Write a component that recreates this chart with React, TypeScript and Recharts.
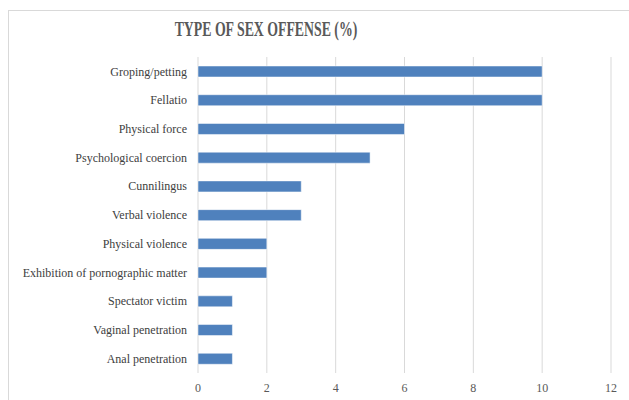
import { BarChart, Bar, XAxis, YAxis, CartesianGrid } from "recharts";

const categories = [
  "Groping/petting",
  "Fellatio",
  "Physical force",
  "Psychological coercion",
  "Cunnilingus",
  "Verbal violence",
  "Physical violence",
  "Exhibition of pornographic matter",
  "Spectator victim",
  "Vaginal penetration",
  "Anal penetration",
];
const percentages = [10, 10, 6, 5, 3, 3, 2, 2, 1, 1, 1];
const xTicks = [0, 2, 4, 6, 8, 10, 12];

const data = categories.map((name, i) => ({ name, value: percentages[i] }));

const fontFamily = "'Liberation Serif', 'DejaVu Serif', serif";

// plain text tick so long labels don't wrap
const renderCategoryTick = (props: any) => {
  const { x, y, payload } = props;
  return (
    <text x={x} y={y} dy="0.35em" textAnchor="end" fill="#404040" fontSize={12} fontFamily={fontFamily}>
      {payload.value}
    </text>
  );
};

const App = () => {
  return (
    <div style={{ position: "fixed", left: 0, top: 0, width: 629, height: 400, background: "#fff", overflow: "hidden" }}>
      {/* outer chart frame, cut off on the right and bottom */}
      <div
        style={{
          position: "absolute",
          left: 8,
          top: 10,
          width: 700,
          height: 500,
          borderLeft: "1px solid #d9d9d9",
          borderTop: "1px solid #d9d9d9",
        }}
      />
      <div
        style={{
          position: "absolute",
          left: 266,
          top: 18,
          transform: "translateX(-50%) scaleX(0.69)",
          whiteSpace: "nowrap",
          fontFamily,
          fontWeight: "bold",
          fontSize: 20,
          color: "#595959",
        }}
      >
        TYPE OF SEX OFFENSE (%)
      </div>
      <div style={{ position: "absolute", left: 0, top: 0 }}>
        <BarChart
          width={629}
          height={400}
          layout="vertical"
          data={data}
          margin={{ top: 57, right: 18, bottom: 0, left: 8 }}
        >
          <CartesianGrid horizontal={false} stroke="#d9d9d9" />
          <XAxis
            type="number"
            domain={[0, 12]}
            ticks={xTicks}
            axisLine={false}
            tickLine={false}
            height={27}
            tickMargin={4}
            tick={{ fill: "#595959", fontSize: 12, fontFamily }}
          />
          <YAxis
            type="category"
            dataKey="name"
            width={190}
            axisLine={false}
            tickLine={false}
            tickMargin={5}
            interval={0}
            tick={renderCategoryTick}
          />
          <Bar
            dataKey="value"
            fill="#4f81bd"
            stroke="#ffffff"
            strokeWidth={0.5}
            barSize={11}
            isAnimationActive={false}
          />
        </BarChart>
      </div>
    </div>
  );
};

export default App;
